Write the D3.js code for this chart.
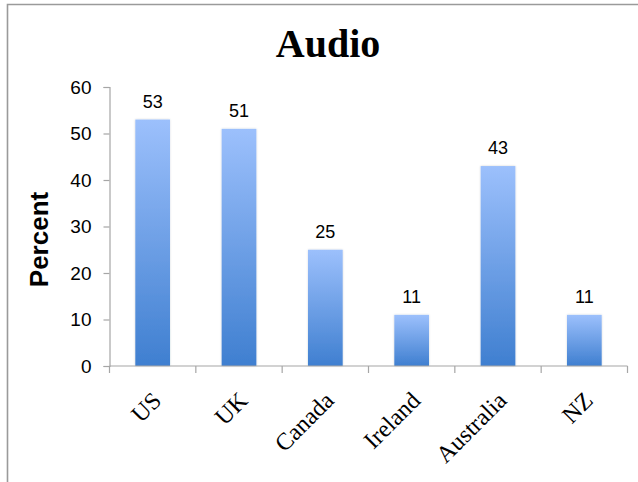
<!DOCTYPE html>
<html>
<head>
<meta charset="utf-8">
<script src="https://cdn.jsdelivr.net/npm/d3@7"></script>
<style>
  html, body { margin: 0; padding: 0; background: #fff; }
  svg { display: block; }
</style>
</head>
<body>
<svg id="chart" width="638" height="482"></svg>
<script>
// Share of respondents using audio, by country
const countries = ["US", "UK", "Canada", "Ireland", "Australia", "NZ"];
const percents = [53, 51, 25, 11, 43, 11];
const yTicks = [0, 10, 20, 30, 40, 50, 60];

const svg = d3.select("#chart");
const W = 638, H = 482;
const plotLeft = 109.5, plotRight = 627.5, plotTop = 87, plotBottom = 366;

// outer frame
svg.append("path")
  .attr("d", `M7.5,${H} V4.5 H${W}`)
  .attr("fill", "none")
  .attr("stroke", "#9a9a9a")
  .attr("stroke-width", 1.6);

const x = d3.scaleBand()
  .domain(countries)
  .range([plotLeft, plotRight])
  .paddingInner(0.598)
  .paddingOuter(0.299);

const y = d3.scaleLinear().domain([0, 60]).range([plotBottom, plotTop]);

// bar gradient
const defs = svg.append("defs");
const grad = defs.append("linearGradient")
  .attr("id", "barGrad")
  .attr("x1", 0).attr("y1", 0).attr("x2", 0).attr("y2", 1);
grad.append("stop").attr("offset", "0%").attr("stop-color", "#9cc0fc");
grad.append("stop").attr("offset", "100%").attr("stop-color", "#3f7fd0");

const shadow = defs.append("filter").attr("id", "barShadow")
  .attr("x", "-20%").attr("y", "-5%").attr("width", "140%").attr("height", "110%");
shadow.append("feGaussianBlur").attr("in", "SourceAlpha").attr("stdDeviation", 1.2).attr("result", "b");
shadow.append("feComponentTransfer").attr("in", "b").attr("result", "s")
  .append("feFuncA").attr("type", "linear").attr("slope", 0.18);
const merge = shadow.append("feMerge");
merge.append("feMergeNode").attr("in", "s");
merge.append("feMergeNode").attr("in", "SourceGraphic");

// title
svg.append("text")
  .attr("x", 328).attr("y", 57)
  .attr("text-anchor", "middle")
  .attr("font-family", "'Liberation Serif', 'Times New Roman', serif")
  .attr("font-weight", "bold")
  .attr("font-size", 40)
  .text("Audio");

// y axis
const yAxis = svg.append("g")
  .attr("transform", `translate(${plotLeft},0)`)
  .call(d3.axisLeft(y).tickValues(yTicks).tickSize(6).tickPadding(12));
yAxis.select(".domain").attr("stroke", "#a6a6a6").attr("stroke-width", 1.2);
yAxis.selectAll(".tick line").attr("stroke", "#a6a6a6").attr("stroke-width", 1.2);
yAxis.selectAll(".tick text")
  .attr("font-family", "'Liberation Sans', Arial, sans-serif")
  .attr("font-size", 19)
  .attr("fill", "#000");

// y axis title
svg.append("text")
  .attr("transform", `translate(48,${(plotTop + plotBottom) / 2 + 13}) rotate(-90)`)
  .attr("text-anchor", "middle")
  .attr("font-family", "'Liberation Sans', Arial, sans-serif")
  .attr("font-weight", "bold")
  .attr("font-size", 26)
  .text("Percent");

// bars
svg.append("g").selectAll("rect")
  .data(percents)
  .join("rect")
  .attr("x", (d, i) => x(countries[i]))
  .attr("y", d => y(d))
  .attr("width", x.bandwidth())
  .attr("height", d => y(0) - y(d))
  .attr("fill", "url(#barGrad)")
  .attr("filter", "url(#barShadow)");

// value labels
svg.append("g").selectAll("text")
  .data(percents)
  .join("text")
  .attr("x", (d, i) => x(countries[i]) + x.bandwidth() / 2)
  .attr("y", d => y(d) - 12)
  .attr("text-anchor", "middle")
  .attr("font-family", "'Liberation Sans', Arial, sans-serif")
  .attr("font-size", 18)
  .text(d => d);

// x axis with category boundary ticks
const step = x.step();
const xAxis = svg.append("g").attr("transform", `translate(0,${plotBottom})`);
xAxis.append("line")
  .attr("x1", plotLeft).attr("x2", plotRight)
  .attr("stroke", "#a6a6a6").attr("stroke-width", 1.2);
xAxis.selectAll("line.tk")
  .data(d3.range(countries.length + 1))
  .join("line")
  .attr("class", "tk")
  .attr("x1", i => plotLeft + i * step).attr("x2", i => plotLeft + i * step)
  .attr("y1", 0).attr("y2", 7)
  .attr("stroke", "#a6a6a6").attr("stroke-width", 1.2);

xAxis.selectAll("text")
  .data(countries)
  .join("text")
  .attr("transform", d => `translate(${x(d) + x.bandwidth() / 2 + 10},${36}) rotate(-45)`)
  .attr("text-anchor", "end")
  .attr("font-family", "'Liberation Serif', 'Times New Roman', serif")
  .attr("font-size", 24)
  .text(d => d);
</script>
</body>
</html>
